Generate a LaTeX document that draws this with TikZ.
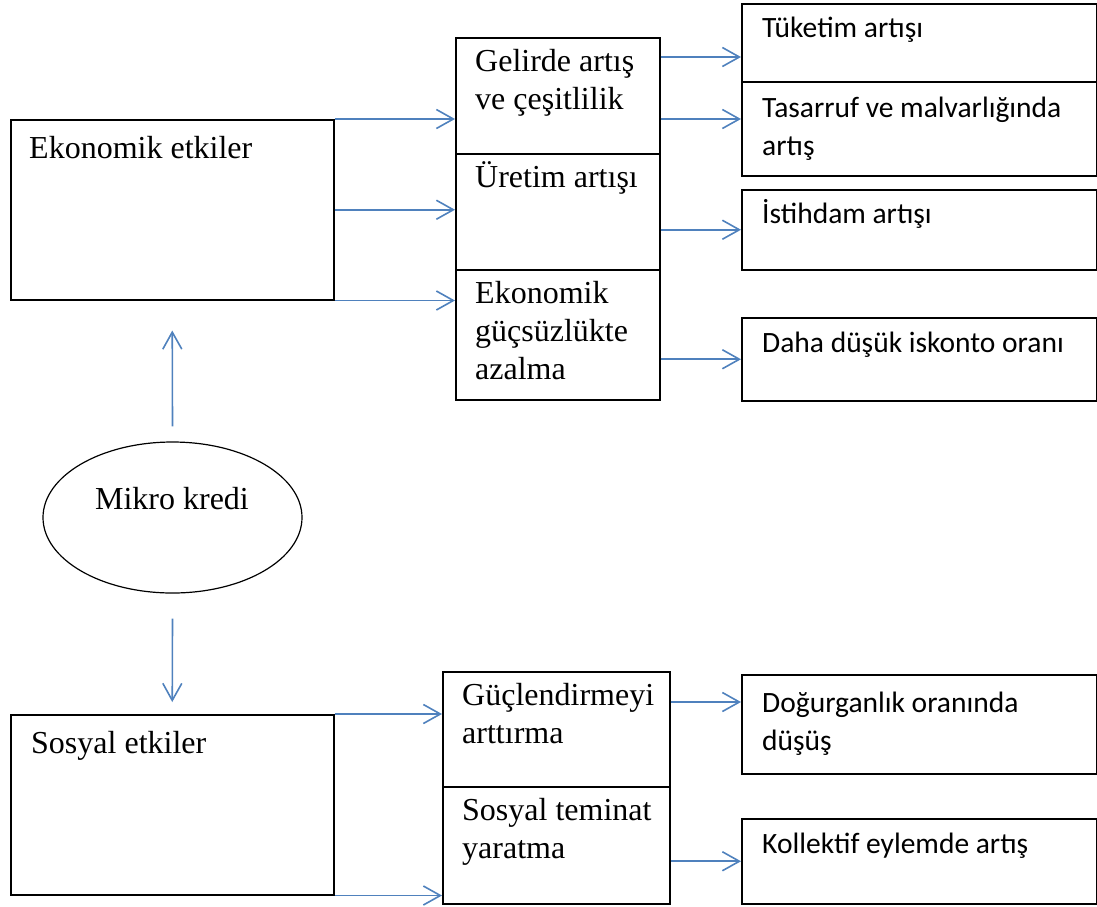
\documentclass[tikz,border=0pt]{standalone}
\usepackage{fontspec}
\setmainfont{Liberation Serif}
\newfontfamily\calibri{Carlito}
\usepackage{tikz}
\definecolor{okmavi}{HTML}{4F81BD}
\usetikzlibrary{arrows.meta,shapes.geometric}
\tikzstyle{kutu}=[rectangle, draw=black, line width=1.5pt, inner sep=0pt, anchor=north west]
\tikzstyle{yazi}=[anchor=base west, inner sep=0pt, align=left, font=\fontsize{32}{38}\selectfont]
\tikzstyle{yazic}=[anchor=base west, inner sep=0pt, align=left, font=\calibri\fontsize{29.5}{38}\selectfont]
\tikzstyle{ok}=[draw=okmavi, line width=1.6pt, -{Straight Barb[length=17pt, width=19pt]}]

\begin{document}
\begin{tikzpicture}[x=1pt,y=-1pt]
			\useasboundingbox (0,0) rectangle (1097,906);
			% sol taraf
			\node[kutu, minimum width=323pt, minimum height=180pt] (eko) at (10,119) {};
			\node[kutu, minimum width=323pt, minimum height=180pt] (sos) at (10,714) {};
			\node[ellipse, draw=black, line width=1.2pt, minimum width=259pt, minimum height=151pt] (mikro) at (172.5,517.5) {};
			\node[yazi, anchor=base] (mikrot) at (172,509) {Mikro kredi};
			\node[yazi] (ekot) at ([shift={(19,39)}]eko.north west) {Ekonomik etkiler};
			\node[yazi] (sost) at ([shift={(21,39)}]sos.north west) {Sosyal etkiler};
			% orta sutun (base = son satir)
			\node[kutu, minimum width=204pt, minimum height=116pt] (gel) at (455,37) {};
			\node[kutu, minimum width=204pt, minimum height=116pt] (ure) at (455,153) {};
			\node[kutu, minimum width=204pt, minimum height=130pt] (gsz) at (455,269) {};
			\node[kutu, minimum width=227pt, minimum height=115pt] (guc) at (442,671) {};
			\node[kutu, minimum width=227pt, minimum height=117pt] (tem) at (442,786) {};
			\node[yazi] (gelt) at ([shift={(20,72)}]gel.north west) {Gelirde artış\\ve çeşitlilik};
			\node[yazi] (uret) at ([shift={(20,34)}]ure.north west) {Üretim artışı};
			\node[yazi] (gszt) at ([shift={(20,110)}]gsz.north west) {Ekonomik\\güçsüzlükte\\azalma};
			\node[yazi] (guct) at ([shift={(20,72)}]guc.north west) {Güçlendirmeyi\\arttırma};
			\node[yazi] (temt) at ([shift={(20,72)}]tem.north west) {Sosyal teminat\\yaratma};
			% sag sutun
			\node[kutu, minimum width=355pt, minimum height=78pt] (tuk) at (741,3) {};
			\node[kutu, minimum width=355pt, minimum height=94pt] (tas) at (741,81) {};
			\node[kutu, minimum width=355pt, minimum height=80pt] (ist) at (741,189) {};
			\node[kutu, minimum width=355pt, minimum height=83pt] (dah) at (741,317) {};
			\node[kutu, minimum width=355pt, minimum height=99pt] (dog) at (741,674) {};
			\node[kutu, minimum width=355pt, minimum height=85pt] (kol) at (741,818) {};
			\node[yazic] (tukt) at ([shift={(21,34)}]tuk.north west) {Tüketim artışı};
			\node[yazic] (tast) at ([shift={(21,74)}]tas.north west) {Tasarruf ve malvarlığında\\artış};
			\node[yazic] (istt) at ([shift={(21,34)}]ist.north west) {İstihdam artışı};
			\node[yazic] (daht) at ([shift={(21,35)}]dah.north west) {Daha düşük iskonto oranı};
			\node[yazic] (dogt) at ([shift={(21,76)}]dog.north west) {Doğurganlık oranında\\düşüş};
			\node[yazic] (kolt) at ([shift={(21,35)}]kol.north west) {Kollektif eylemde artış};
			% oklar
			\path[ok]
				([yshift=15pt]mikro.north) -- ([yshift=-30pt]eko.south);
			\path[ok]
				([yshift=-25pt]mikro.south) -- ([yshift=12pt]sos.north);
			\path[ok] (eko.north east) -- (eko.north east -| gel.west);
			\path[ok] (eko.east) -- (eko.east -| ure.west);
			\path[ok] (eko.south east) -- (eko.south east -| gsz.west);
			\path[ok] ([yshift=-20pt]gel.north east) -- ([yshift=-20pt]gel.north east -| tuk.west);
			\path[ok] (gel.east |- eko.north) -- (tas.west |- eko.north);
			\path[ok] (ure.east |- ist.west) -- (ist.west);
			\path[ok] (gsz.east |- dah.west) -- (dah.west);
			\path[ok] (sos.north east) -- (sos.north east -| guc.west);
			\path[ok] (sos.south east) -- (sos.south east -| tem.west);
			\path[ok] ([yshift=-31pt]guc.north east) -- ([yshift=-31pt]guc.north east -| dog.west);
			\path[ok] (tem.east |- kol.west) -- (kol.west);
		\end{tikzpicture}
\end{document}
